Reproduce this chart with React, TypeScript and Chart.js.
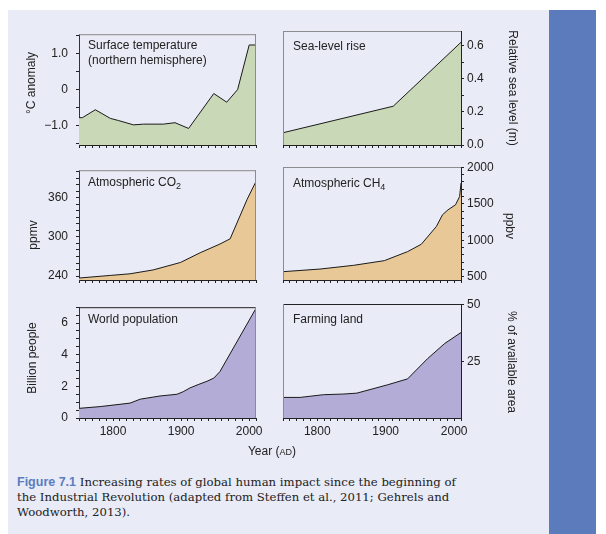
import React, { useEffect, useRef } from "react";
import { Chart, registerables } from "chart.js";
Chart.register(...registerables);

// ---------- data ----------
const tempYears = [1750, 1755, 1774, 1796, 1808, 1830, 1845, 1874, 1891, 1911, 1948, 1967, 1983, 2000, 2010];
const tempValues = [-0.78, -0.78, -0.56, -0.8, -0.86, -0.98, -0.96, -0.96, -0.92, -1.08, -0.11, -0.35, 0, 1.24, 1.24];

const seaYears = [1750, 1911, 2010];
const seaValues = [0.074, 0.234, 0.62];

const co2Years = [1750, 1796, 1825, 1859, 1899, 1928, 1957, 1972, 1997, 2010];
const co2Values = [237, 241, 243.5, 249.4, 260.8, 275.7, 289, 297, 357.5, 384.8];

const ch4Years = [1750, 1804, 1853, 1898, 1932, 1952, 1974, 1983, 1991, 2002, 2008, 2010];
const ch4Values = [569, 605, 656, 720, 844, 945, 1188, 1349, 1417, 1486, 1600, 1784];

const popYears = [1750, 1781, 1825, 1840, 1869, 1894, 1903, 1913, 1925, 1938, 1948, 1957, 2010];
const popValues = [0.61, 0.72, 0.94, 1.19, 1.39, 1.5, 1.66, 1.9, 2.11, 2.32, 2.52, 2.93, 6.93];

const farmYears = [1750, 1775, 1809, 1839, 1858, 1903, 1932, 1961, 1986, 2010];
const farmValues = [9.1, 9.1, 10.3, 10.6, 11.0, 14.7, 17.3, 26.2, 32.9, 37.8];

const xTickValues = [1750, 1760, 1770, 1780, 1790, 1800, 1810, 1820, 1830, 1840, 1850, 1860, 1870, 1880, 1890, 1900, 1910, 1920, 1930, 1940, 1950, 1960, 1970, 1980, 1990, 2000, 2010];
const xTickLabels = ["", "", "", "", "", "1800", "", "", "", "", "", "", "", "", "", "1900", "", "", "", "", "", "", "", "", "", "2000", ""];

const tempTicks = [-1.5, -1, -0.5, 0, 0.5, 1, 1.5];
const tempLabels = ["", "\u22121.0", "", "0", "", "1.0", ""];
const seaTicks = [0, 0.1, 0.2, 0.3, 0.4, 0.5, 0.6];
const seaLabels = ["0.0", "", "0.2", "", "0.4", "", "0.6"];
const co2Ticks = [240, 250, 260, 270, 280, 290, 300, 310, 320, 330, 340, 350, 360, 370, 380, 390, 400];
const co2Labels = ["240", "", "", "", "", "", "300", "", "", "", "", "", "360", "", "", "", ""];
const ch4Ticks = [500, 600, 700, 800, 900, 1000, 1100, 1200, 1300, 1400, 1500, 1600, 1700, 1800, 1900, 2000];
const ch4Labels = ["500", "", "", "", "", "1000", "", "", "", "", "1500", "", "", "", "", "2000"];
const popTicks = [0, 0.5, 1, 1.5, 2, 2.5, 3, 3.5, 4, 4.5, 5, 5.5, 6, 6.5, 7];
const popLabels = ["0", "", "", "", "2", "", "", "", "4", "", "", "", "6", "", ""];
const farmTicks = [25, 50];
const farmLabels = ["25", "50"];

// ---------- styling ----------
const FONT = '"Liberation Sans", Arial, Helvetica, sans-serif';
const GREEN = "#c9d8b6";
const TAN = "#e8c897";
const PURPLE = "#b2acd6";
const GRAY = "#8c8c8c";
const DARK = "#222222";

type PanelCfg = {
  xs: number[]; ys: number[];
  l: number; t: number; r: number; b: number;
  side: "left" | "right";
  yMin: number; yMax: number; yTicks: number[]; yLabels: string[];
  fill: string; showX: boolean; topColor: string;
};

const panels: PanelCfg[] = [
  { xs: tempYears, ys: tempValues, l: 79, t: 31, r: 256, b: 145, side: "left", yMin: -1.54, yMax: 1.54, yTicks: tempTicks, yLabels: tempLabels, fill: GREEN, showX: false, topColor: GRAY },
  { xs: seaYears, ys: seaValues, l: 283, t: 31, r: 461, b: 145, side: "right", yMin: 0, yMax: 0.688, yTicks: seaTicks, yLabels: seaLabels, fill: GREEN, showX: false, topColor: GRAY },
  { xs: co2Years, ys: co2Values, l: 79, t: 167, r: 256, b: 280, side: "left", yMin: 234, yMax: 402, yTicks: co2Ticks, yLabels: co2Labels, fill: TAN, showX: false, topColor: GRAY },
  { xs: ch4Years, ys: ch4Values, l: 283, t: 167, r: 461, b: 280, side: "right", yMin: 455, yMax: 2004, yTicks: ch4Ticks, yLabels: ch4Labels, fill: TAN, showX: false, topColor: GRAY },
  { xs: popYears, ys: popValues, l: 79, t: 304, r: 256, b: 418, side: "left", yMin: 0, yMax: 7, yTicks: popTicks, yLabels: popLabels, fill: PURPLE, showX: true, topColor: DARK },
  { xs: farmYears, ys: farmValues, l: 283, t: 304, r: 461, b: 418, side: "right", yMin: 0, yMax: 50.4, yTicks: farmTicks, yLabels: farmLabels, fill: PURPLE, showX: true, topColor: DARK },
];

const PAD = 60;
const TOPPAD = 12;
const XH = 30;

const framePlugin = {
  id: "frame",
  afterDatasetsDraw(chart: any, _args: any, opts: any) {
    const { ctx, chartArea: a } = chart;
    ctx.save();
    ctx.lineWidth = 1;
    ctx.strokeStyle = opts.topColor;
    ctx.beginPath();
    ctx.moveTo(a.left, a.top + 0.5);
    ctx.lineTo(a.right, a.top + 0.5);
    ctx.stroke();
    ctx.strokeStyle = GRAY;
    const x = opts.side === "left" ? a.right - 0.5 : a.left + 0.5;
    ctx.beginPath();
    ctx.moveTo(x, a.top);
    ctx.lineTo(x, a.bottom);
    ctx.stroke();
    ctx.restore();
  },
};

function Panel({ cfg }: { cfg: PanelCfg }) {
  const ref = useRef<HTMLCanvasElement>(null);
  const w = cfg.r - cfg.l + 2 * PAD;
  const h = cfg.b - cfg.t + TOPPAD + XH;
  useEffect(() => {
    const yTicks = cfg.yTicks;
    const yLabels = cfg.yLabels;
    const chart = new Chart(ref.current!, {
      type: "line",
      data: {
        datasets: [
          {
            data: cfg.xs.map((x, i) => ({ x, y: cfg.ys[i] })),
            borderColor: "#1a1a1a",
            borderWidth: 1,
            backgroundColor: cfg.fill,
            fill: "start",
            pointRadius: 0,
            tension: 0,
          },
        ],
      },
      options: {
        animation: false,
        responsive: false,
        devicePixelRatio: 1,
        events: [],
        layout: {
          padding: {
            left: cfg.side === "left" ? 0 : PAD,
            right: cfg.side === "left" ? PAD : 0,
            top: TOPPAD,
            bottom: 0,
          },
        },
        plugins: {
          legend: { display: false },
          tooltip: { enabled: false },
          frame: { topColor: cfg.topColor, side: cfg.side },
        } as any,
        scales: {
          x: {
            type: "linear",
            min: 1750,
            max: 2010,
            z: 1,
            afterBuildTicks: (s: any) => {
              s.ticks = xTickValues.map((v) => ({ value: v }));
            },
            afterFit: (s: any) => {
              s.height = XH;
            },
            grid: { display: true, drawOnChartArea: false, drawTicks: true, tickLength: 3, color: DARK, lineWidth: 1 },
            border: { display: true, color: DARK, width: 1 },
            ticks: {
              autoSkip: false,
              maxRotation: 0,
              minRotation: 0,
              padding: 3,
              color: DARK,
              font: { family: FONT, size: 12 },
              callback: (_v: any, i: number) => (cfg.showX ? xTickLabels[i] : ""),
            },
          },
          y: {
            type: "linear",
            position: cfg.side,
            min: cfg.yMin,
            max: cfg.yMax,
            z: 1,
            afterBuildTicks: (s: any) => {
              s.ticks = yTicks.map((v) => ({ value: v }));
            },
            afterFit: (s: any) => {
              s.width = PAD;
            },
            grid: { display: true, drawOnChartArea: false, drawTicks: true, tickLength: 3, color: DARK, lineWidth: 1 },
            border: { display: true, color: cfg.side === "left" ? "#333" : DARK, width: 1 },
            ticks: {
              autoSkip: false,
              padding: cfg.side === "left" ? 8 : 3,
              color: DARK,
              font: { family: FONT, size: 12 },
              callback: (_v: any, i: number) => yLabels[i],
            },
          },
        },
      } as any,
      plugins: [framePlugin],
    });
    return () => chart.destroy();
  }, []);
  return (
    <canvas
      ref={ref}
      width={w}
      height={h}
      style={{ position: "absolute", left: cfg.l - PAD, top: cfg.t - TOPPAD, width: w, height: h }}
    />
  );
}

const txt: React.CSSProperties = {
  position: "absolute",
  fontFamily: FONT,
  fontSize: 12,
  color: DARK,
  whiteSpace: "nowrap",
  lineHeight: "15px",
};

function Rot({ x, y, deg, children }: { x: number; y: number; deg: number; children: React.ReactNode }) {
  return (
    <div style={{ ...txt, left: x, top: y, transform: `translate(-50%, -50%) rotate(${deg}deg)` }}>{children}</div>
  );
}

export default function App() {
  return (
    <div style={{ position: "absolute", left: 0, top: 0, width: 606, height: 534, background: "#fff", overflow: "hidden" }}>
      <div style={{ position: "absolute", left: 8, top: 10, width: 541, height: 524, background: "#e9ebf6" }} />
      <div style={{ position: "absolute", left: 549, top: 10, width: 47, height: 524, background: "#5b7bbd" }} />
      {panels.map((p, i) => (
        <Panel key={i} cfg={p} />
      ))}
      {/* panel titles */}
      <div style={{ ...txt, left: 88, top: 38 }}>
        Surface temperature
        <br />
        (northern hemisphere)
      </div>
      <div style={{ ...txt, left: 293, top: 39 }}>Sea-level rise</div>
      <div style={{ ...txt, left: 88, top: 175 }}>
        Atmospheric CO<sub style={{ fontSize: 9, verticalAlign: "-3px", lineHeight: 0 }}>2</sub>
      </div>
      <div style={{ ...txt, left: 293, top: 176 }}>
        Atmospheric CH<sub style={{ fontSize: 9, verticalAlign: "-3px", lineHeight: 0 }}>4</sub>
      </div>
      <div style={{ ...txt, left: 88, top: 312 }}>World population</div>
      <div style={{ ...txt, left: 293, top: 312 }}>Farming land</div>
      {/* axis titles */}
      <Rot x={31} y={83} deg={-90}>°C anomaly</Rot>
      <Rot x={33} y={235} deg={-90}>ppmv</Rot>
      <Rot x={32} y={358} deg={-90}>Billion people</Rot>
      <Rot x={512} y={88} deg={90}>Relative sea level (m)</Rot>
      <Rot x={509} y={226} deg={90}>ppbv</Rot>
      <Rot x={511} y={362} deg={90}>% of available area</Rot>
      <div style={{ ...txt, left: 272, top: 452, transform: "translate(-50%, -50%)" }}>
        Year (<span style={{ fontSize: 9 }}>AD</span>)
      </div>
      {/* caption */}
      <div
        style={{
          position: "absolute",
          left: 17,
          top: 475,
          width: 525,
          whiteSpace: "nowrap",
          fontFamily: '"DejaVu Serif", "Liberation Serif", serif',
          fontSize: 11.7,
          lineHeight: "15px",
          color: "#222",
        }}
      >
        <span style={{ fontFamily: FONT, fontWeight: "bold", fontSize: 12.5, color: "#5b7cc0" }}>Figure 7.1</span>
        {"  "}Increasing rates of global human impact since the beginning of
        <br />
        the Industrial Revolution (adapted from Steffen et al., 2011; Gehrels and
        <br />
        Woodworth, 2013).
      </div>
    </div>
  );
}
